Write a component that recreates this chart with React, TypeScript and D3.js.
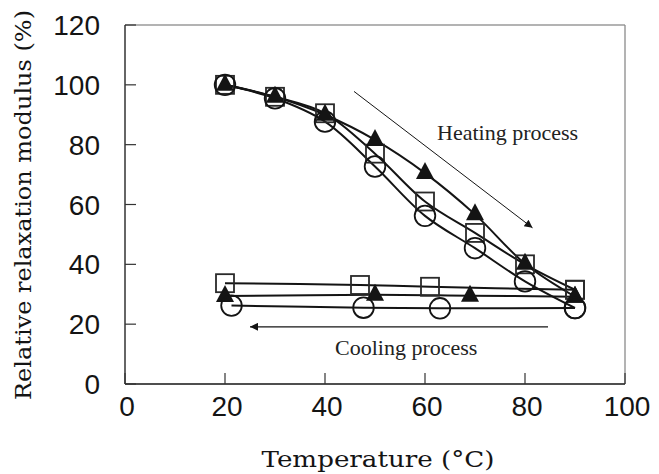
import React, { useEffect, useRef } from "react";
import * as d3 from "d3";

// heating runs (measured every 10 °C)
const heatTemps = [20, 30, 40, 50, 60, 70, 80, 90];
const heatSquare = [100, 96, 90.5, 77, 61, 50.5, 40, 31.5];
const heatCircle = [100, 95.5, 87.7, 72.7, 56.2, 45.4, 34.3, 25.4];
const heatTriangle = [100, 96, 90, 81.6, 70.5, 56.7, 40.2, 29.2];

// cooling runs
const coolSquareTemps = [20, 47, 61, 90];
const coolSquare = [33.7, 33.1, 32.5, 31.5];
const coolTriangleTemps = [20, 50, 69, 90];
const coolTriangle = [29.4, 29.8, 29.5, 29.2];
const coolCircleTemps = [21.3, 47.7, 63, 90];
const coolCircle = [26.2, 25.5, 25.3, 25.4];

const xTicks = [0, 20, 40, 60, 80, 100];
const yTicks = [0, 20, 40, 60, 80, 100, 120];

const App = () => {
  const ref = useRef<SVGSVGElement>(null);

  useEffect(() => {
    const WIDTH = 659;
    const HEIGHT = 474;
    const MARGIN = { top: 25, right: 34, bottom: 90, left: 125 };

    const x = d3.scaleLinear().domain([0, 100]).range([MARGIN.left, WIDTH - MARGIN.right]);
    const y = d3.scaleLinear().domain([0, 120]).range([HEIGHT - MARGIN.bottom, MARGIN.top]);

    const svg = d3.select(ref.current);
    svg.selectAll("*").remove();

    const ink = "#141414";
    const x0 = x(0), x1 = x(100), y0 = y(0), y1 = y(120);

    // frame: top and right light grey
    svg.append("line").attr("x1", x0).attr("x2", x1).attr("y1", y1).attr("y2", y1)
      .attr("stroke", "#9a9a9a").attr("stroke-width", 1.3);
    svg.append("line").attr("x1", x1).attr("x2", x1).attr("y1", y1).attr("y2", y0)
      .attr("stroke", "#8a8a8a").attr("stroke-width", 1.3);
    svg.append("line").attr("x1", x0).attr("x2", x0).attr("y1", y1).attr("y2", y0)
      .attr("stroke", ink).attr("stroke-width", 1.3);
    svg.append("line").attr("x1", x0).attr("x2", x1).attr("y1", y0).attr("y2", y0)
      .attr("stroke", ink).attr("stroke-width", 1.3);

    // ticks (inward)
    yTicks.forEach((t) => {
      svg.append("line").attr("x1", x0).attr("x2", x0 + 11).attr("y1", y(t)).attr("y2", y(t))
        .attr("stroke", "#333").attr("stroke-width", 1.2);
      svg.append("text").attr("x", 100).attr("y", y(t) + 10)
        .attr("text-anchor", "end").attr("font-family", "Liberation Sans, Arial, sans-serif")
        .attr("font-size", 28).attr("fill", ink).text(t);
    });
    xTicks.forEach((t) => {
      svg.append("line").attr("x1", x(t)).attr("x2", x(t)).attr("y1", y0).attr("y2", y0 - 11)
        .attr("stroke", "#333").attr("stroke-width", 1.2);
      svg.append("text").attr("x", x(t) + 2).attr("y", 416)
        .attr("text-anchor", "middle").attr("font-family", "Liberation Sans, Arial, sans-serif")
        .attr("font-size", 28).attr("fill", ink).text(t);
    });

    // axis titles
    svg.append("text").attr("transform", "translate(31,205) rotate(-90)")
      .attr("text-anchor", "middle").attr("font-family", "DejaVu Serif, serif")
      .attr("font-size", 23).attr("fill", ink)
      .attr("textLength", 390).attr("lengthAdjust", "spacingAndGlyphs")
      .text("Relative relaxation modulus (%)");
    svg.append("text").attr("x", 378).attr("y", 467)
      .attr("text-anchor", "middle").attr("font-family", "DejaVu Serif, serif")
      .attr("font-size", 23).attr("fill", ink)
      .attr("textLength", 233).attr("lengthAdjust", "spacingAndGlyphs")
      .text("Temperature (°C)");

    // process arrows and labels
    const defs = svg.append("defs");
    defs.append("marker").attr("id", "head").attr("viewBox", "0 0 10 10")
      .attr("refX", 10).attr("refY", 5).attr("markerWidth", 12).attr("markerHeight", 8)
      .attr("markerUnits", "userSpaceOnUse").attr("orient", "auto")
      .append("path").attr("d", "M0,0L10,5L0,10Z").attr("fill", ink);

    svg.append("line").attr("x1", x(45.8)).attr("y1", y(97.8)).attr("x2", x(81.5)).attr("y2", y(52.2))
      .attr("stroke", ink).attr("stroke-width", 1).attr("marker-end", "url(#head)");
    svg.append("line").attr("x1", x(84.6)).attr("y1", y(19.1)).attr("x2", x(25)).attr("y2", y(19.1))
      .attr("stroke", ink).attr("stroke-width", 1.2).attr("marker-end", "url(#head)");

    svg.append("text").attr("x", 437).attr("y", 140)
      .attr("font-family", "Liberation Serif, Times New Roman, serif").attr("font-size", 22)
      .attr("fill", "#222").text("Heating process");
    svg.append("text").attr("x", 335).attr("y", 355)
      .attr("font-family", "Liberation Serif, Times New Roman, serif").attr("font-size", 22)
      .attr("fill", "#222").text("Cooling process");

    // series
    const line = d3.line<[number, number]>()
      .x((d) => x(d[0]))
      .y((d) => y(d[1]))
      .curve(d3.curveCatmullRom.alpha(0.5));

    const series = [
      { t: heatTemps, v: heatSquare, shape: "square" },
      { t: heatTemps, v: heatCircle, shape: "circle" },
      { t: heatTemps, v: heatTriangle, shape: "triangle" },
      { t: coolSquareTemps, v: coolSquare, shape: "square" },
      { t: coolTriangleTemps, v: coolTriangle, shape: "triangle" },
      { t: coolCircleTemps, v: coolCircle, shape: "circle" },
    ];

    series.forEach((s) => {
      const pts = s.t.map((t, i) => [t, s.v[i]] as [number, number]);
      svg.append("path").datum(pts).attr("d", line)
        .attr("fill", "none").attr("stroke", ink).attr("stroke-width", 2);
    });

    const triPath = "M0,-11L9,6L-9,6Z";
    series.forEach((s) => {
      s.t.forEach((t, i) => {
        const cx = x(t), cy = y(s.v[i]);
        if (s.shape === "circle") {
          svg.append("circle").attr("cx", cx).attr("cy", cy).attr("r", 10.3)
            .attr("fill", "none").attr("stroke", ink).attr("stroke-width", 1.8);
        } else if (s.shape === "square") {
          svg.append("rect").attr("x", cx - 9).attr("y", cy - 9).attr("width", 18).attr("height", 18)
            .attr("fill", "none").attr("stroke", "#2a2a2a").attr("stroke-width", 1.8);
        } else {
          svg.append("path").attr("d", triPath).attr("transform", `translate(${cx},${cy})`)
            .attr("fill", ink);
        }
      });
    });
  }, []);

  return (
    <svg
      ref={ref}
      width={659}
      height={474}
      style={{ position: "absolute", left: 0, top: 0, background: "#fff" }}
    />
  );
};

export default App;
